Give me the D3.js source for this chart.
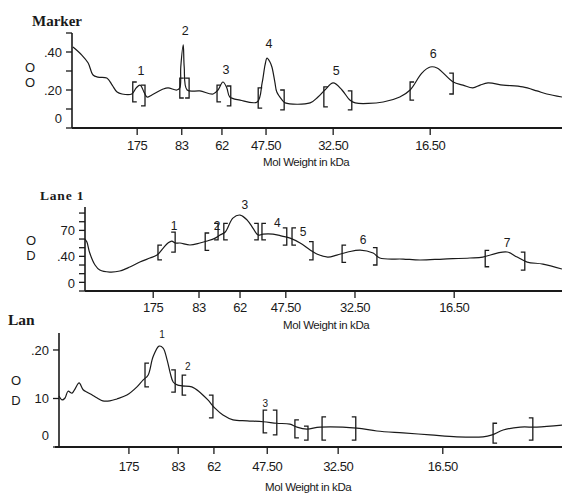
<!DOCTYPE html>
<html><head><meta charset="utf-8">
<script src="https://cdn.jsdelivr.net/npm/d3@7"></script>
<style>
body{margin:0;background:#fff;}
svg{display:block;}
</style></head><body>
<svg id="c" width="562" height="496"></svg>
<script>
// ---- data ----
const mwLabels = ["175","83","62","47.50","32.50","16.50"];
const markerTicks = [13.3,22.4,30.6,39.6,53.3,73.1];   // migration (%) of each MW marker
const lane1Ticks  = [14.3,23.9,32.5,42.1,56.6,77.4];
const lane2Ticks  = [13.9,23.7,30.8,41.4,55.5,76.3];

const markerYTicks = [0,0.1,0.2,0.3,0.4,0.5];
const markerYLabels = [[0.4,".40"],[0.2,".20"],[0,"0"]];
const lane1YTicks = [0,10,20,30,40,50,60,70,80,90];
const lane1YLabels = [[70,"70"],[40,".40"],[0,"0"]];
const lane2YTicks = [0,0.1,0.2];
const lane2YLabels = [[0.2,".20"],[0.1,"10"],[0,"0"]];

// [migration %, OD]
const markerTrace = [[0.2,0.426],[2.0,0.384],[3.3,0.342],[4.3,0.279],[5.3,0.268],[7.1,0.263],[8.2,0.226],[9.2,0.189],[10.2,0.179],[12.2,0.179],[13.1,0.211],[13.9,0.226],[14.7,0.189],[15.3,0.163],[16.3,0.174],[18.6,0.205],[19.6,0.211],[21.4,0.2],[22.0,0.211],[22.2,0.321],[22.7,0.437],[22.9,0.321],[23.5,0.2],[26.1,0.195],[28.8,0.179],[29.8,0.2],[30.8,0.242],[31.6,0.211],[32.2,0.163],[34.3,0.147],[37.8,0.137],[38.8,0.237],[39.4,0.332],[39.8,0.368],[40.4,0.347],[40.8,0.321],[41.4,0.242],[41.8,0.189],[42.9,0.147],[43.5,0.132],[48.6,0.132],[50.2,0.163],[51.6,0.2],[53.3,0.237],[55.1,0.2],[56.7,0.147],[57.8,0.132],[63.5,0.137],[66.9,0.163],[69.0,0.2],[71.4,0.289],[73.1,0.321],[74.5,0.316],[77.8,0.242],[79.8,0.226],[81.8,0.211],[83.3,0.226],[84.9,0.237],[88.0,0.226],[92.0,0.216],[94.9,0.195],[96.9,0.179],[100,0.163]];
const lane1Trace = [[0,60],[0.4,56.5],[1.0,43.8],[2.1,30.0],[3.1,24.2],[5.2,21.9],[7.3,23.1],[9.4,27.7],[11.5,33.4],[13.6,38.1],[15.1,41.5],[16.4,49.6],[17.4,55.4],[18.2,57.7],[18.9,55.4],[19.9,55.4],[22.0,53.1],[24.1,55.4],[25.6,57.7],[27.3,61.1],[28.3,64.6],[29.4,68.1],[31.0,84.2],[32.5,87.7],[34.0,81.9],[35.2,72.7],[36.3,64.6],[37.3,65.7],[39.4,65.7],[41.3,63.4],[43.0,61.1],[45.1,55.4],[47.2,47.3],[48.6,42.7],[50.9,39.2],[52.8,41.5],[55.1,45.0],[57.7,47.3],[60.4,43.8],[61.8,38.1],[66.7,36.9],[70.2,35.8],[75.1,36.9],[80.7,38.1],[83.4,39.2],[86.4,43.8],[88.5,45.0],[90.6,39.2],[92.7,33.4],[96.0,31.1],[100,25.4]];
const lane2Trace = [[0,0.105],[0.6,0.097],[1.2,0.101],[1.8,0.115],[2.6,0.111],[3.2,0.120],[4.0,0.132],[4.8,0.118],[5.6,0.113],[6.6,0.107],[7.6,0.101],[8.7,0.095],[10.1,0.095],[11.5,0.099],[13.5,0.107],[15.5,0.124],[16.7,0.138],[17.7,0.148],[18.7,0.186],[19.9,0.208],[20.7,0.204],[21.5,0.179],[22.1,0.153],[22.7,0.134],[23.5,0.128],[24.5,0.126],[26.4,0.124],[28.0,0.113],[29.6,0.097],[31.0,0.080],[32.6,0.066],[34.6,0.056],[37.4,0.054],[40.6,0.052],[43.3,0.049],[45.9,0.047],[47.3,0.041],[49.3,0.037],[51.9,0.041],[59.2,0.039],[63.2,0.033],[68.4,0.029],[73.8,0.025],[79.1,0.021],[84.3,0.021],[86.1,0.025],[88.3,0.035],[91.7,0.041],[95.0,0.041],[100,0.045]];

// band brackets: [left mig, left top OD, left bottom OD, right mig, right top OD, right bottom OD]
const markerBands = [[12.4,0.242,0.137,14.9,0.226,0.116],[22.0,0.263,0.158,23.9,0.263,0.158],[29.6,0.226,0.137,32.4,0.221,0.116],[38.0,0.211,0.105,43.3,0.2,0.095],[51.4,0.216,0.111,57.1,0.195,0.095],[69.0,0.242,0.147,77.8,0.289,0.179]];
const lane1Bands = [[15.3,53,36,18.9,68,45],[25.2,67,47,27.9,78,59],[29.1,78,59,36.3,78,59],[37.1,78,59,42.3,73,53],[43.4,73,53,47.8,57,36],[53.9,53,33,61.2,50,30],[83.9,47,28,92.2,45,24]];
const lane2Bands = [[17.1,0.173,0.124,23.1,0.159,0.113],[24.5,0.148,0.107,30.6,0.107,0.060],[40.6,0.076,0.029,43.3,0.076,0.025],[46.9,0.056,0.019,49.5,0.043,0.014],[52.3,0.062,0.014,59.0,0.062,0.014],[86.3,0.049,0.008,94.2,0.060,0.014]];
// peak numbers: [label, mig, OD]
const markerPeakLabels = [["1",14.1,0.30],["2",23.1,0.515],["3",31.4,0.305],["4",40.2,0.442],["5",53.9,0.30],["6",73.7,0.39]];
const lane1PeakLabels = [["1",18.7,75],["2",27.7,75],["3",33.5,100],["4",40.3,79],["5",45.7,68],["6",58.3,59],["7",88.5,56]];
const lane2PeakLabels = [["1",20.5,0.232],["2",25.6,0.165],["3",41.0,0.09]];

// ---- drawing ----
const svg = d3.select("#c");
const ink = "#1a1a1a";

function panel(cfg){
  const x = d3.scaleLinear().domain([0,100]).range([cfg.left, 562]);
  const y = d3.scaleLinear().domain(cfg.yDomain).range([cfg.bottom, cfg.top]);
  const g = svg.append("g");

  // title
  g.append("text").attr("x", cfg.titleX).attr("y", cfg.titleY)
    .attr("font-family","Liberation Serif, serif").attr("font-weight","bold")
    .attr("font-size", cfg.titleSize).attr("letter-spacing", cfg.titleLs).attr("fill", ink).text(cfg.title);

  // y axis
  g.append("line").attr("x1", x(0)).attr("x2", x(0)).attr("y1", cfg.top).attr("y2", y(0))
    .attr("stroke", ink).attr("stroke-width", 1.6);
  g.selectAll(".yt").data(cfg.yTicks).join("line")
    .attr("x1", x(0)-6).attr("x2", x(0)).attr("y1", d=>y(d)).attr("y2", d=>y(d))
    .attr("stroke", ink).attr("stroke-width", 1.3);
  g.selectAll(".yl").data(cfg.yLabels).join("text")
    .attr("x", x(0)-10).attr("y", d=>y(d[0]) + (d[0]===0 ? cfg.zeroDy : 0))
    .attr("dy","0.35em").attr("text-anchor","end")
    .attr("font-family","Liberation Sans, Arial, sans-serif").attr("font-size",13).attr("fill",ink)
    .text(d=>d[1]);
  // OD letters
  cfg.odLetters.forEach((t,i)=>{
    g.append("text").attr("x", cfg.odX).attr("y", cfg.odY[i]).attr("dy","0.35em")
      .attr("text-anchor","middle")
      .attr("font-family","Liberation Sans, Arial, sans-serif").attr("font-size",13).attr("fill",ink).text(t);
  });

  // x axis
  g.append("line").attr("x1", cfg.axisStart).attr("x2", 562).attr("y1", y(0)).attr("y2", y(0))
    .attr("stroke", ink).attr("stroke-width", 1.8);
  g.selectAll(".xt").data(cfg.xTicks).join("line")
    .attr("x1", d=>x(d)).attr("x2", d=>x(d)).attr("y1", y(0)).attr("y2", y(0)+7)
    .attr("stroke", ink).attr("stroke-width", 1.3);
  g.selectAll(".xl").data(cfg.xTicks).join("text")
    .attr("x", d=>x(d)).attr("y", y(0)+ cfg.tickLabelDy).attr("dy","0.35em").attr("text-anchor","middle")
    .attr("font-family","Liberation Sans Narrow, Liberation Sans, Arial, sans-serif").attr("font-size",13)
    .attr("letter-spacing", -0.5).attr("fill", ink)
    .text((d,i)=>mwLabels[i]);
  g.append("text").attr("x", cfg.molX).attr("y", y(0)+cfg.molDy).attr("dy","0.35em")
    .attr("font-family","Liberation Sans, Arial, sans-serif").attr("font-size",11.5)
    .attr("letter-spacing",-0.4).attr("fill",ink).text("Mol Weight in kDa");

  // trace
  g.append("path").datum(cfg.trace)
    .attr("d", d3.line().x(d=>x(d[0])).y(d=>y(d[1])).curve(d3.curveCatmullRom.alpha(0.5)))
    .attr("fill","none").attr("stroke", ink).attr("stroke-width", 1.2);

  // brackets
  const s = 4;
  g.selectAll(".bl").data(cfg.bands).join("path")
    .attr("d", d=>{const xx=x(d[0]), t=y(d[1]), b=y(d[2]); return `M${xx+s},${t}H${xx}V${b}H${xx+s}`;})
    .attr("fill","none").attr("stroke",ink).attr("stroke-width",1.3);
  g.selectAll(".br").data(cfg.bands).join("path")
    .attr("d", d=>{const xx=x(d[3]), t=y(d[4]), b=y(d[5]); return `M${xx-s},${t}H${xx}V${b}H${xx-s}`;})
    .attr("fill","none").attr("stroke",ink).attr("stroke-width",1.3);
  g.selectAll(".pl").data(cfg.peakLabels).join("text")
    .attr("x", d=>x(d[1])).attr("y", d=>y(d[2])).attr("dy","0.35em").attr("text-anchor","middle")
    .attr("font-family","Liberation Sans, Arial, sans-serif").attr("font-size", cfg.peakSize).attr("fill",ink)
    .text(d=>d[0]);
}

panel({title:"Marker", titleX:32, titleY:26, titleSize:15, titleLs:0,
  left:72, top:33, bottom:128, yDomain:[0,0.5], yTicks:markerYTicks, yLabels:markerYLabels, zeroDy:-10,
  odLetters:["O","O"], odX:30, odY:[67,82], axisStart:72, xTicks:markerTicks, tickLabelDy:17,
  molX:263, molDy:34, trace:markerTrace, bands:markerBands, peakLabels:markerPeakLabels, peakSize:12.5});

panel({title:"Lane 1", titleX:40, titleY:200, titleSize:13.5, titleLs:0.8,
  left:85, top:207, bottom:291, yDomain:[0,97], yTicks:lane1YTicks, yLabels:lane1YLabels, zeroDy:-8,
  odLetters:["O","D"], odX:31, odY:[240,255], axisStart:85, xTicks:lane1Ticks, tickLabelDy:16,
  molX:283, molDy:34, trace:lane1Trace, bands:lane1Bands, peakLabels:lane1PeakLabels, peakSize:12});

panel({title:"Lan", titleX:8, titleY:325, titleSize:15.5, titleLs:0,
  left:59, top:333, bottom:447, yDomain:[0,0.235], yTicks:lane2YTicks, yLabels:lane2YLabels, zeroDy:-12,
  odLetters:["O","D"], odX:16, odY:[380,400], axisStart:55, xTicks:lane2Ticks, tickLabelDy:19,
  molX:265, molDy:40, trace:lane2Trace, bands:lane2Bands, peakLabels:lane2PeakLabels, peakSize:10});
</script>
</body></html>
